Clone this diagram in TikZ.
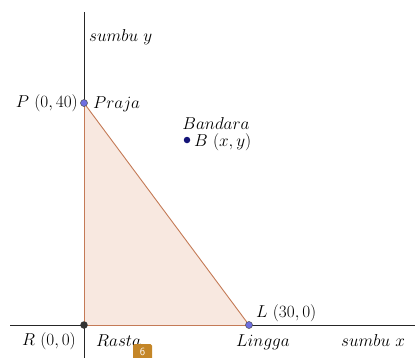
\documentclass[tikz,border=0pt]{standalone}
\usepackage{tikz}
\begin{document}
\begin{tikzpicture}[x=1bp,y=-1bp,
  lbl/.style={inner sep=0pt,font=\fontsize{17.28}{19}\selectfont},
  axis/.style={line width=0.9bp,black!85},
  edge/.style={line width=0.9bp,draw=edgec},
  bluept/.style={circle,fill=ptblue,draw=black!70,line width=0.5bp,inner sep=0pt,minimum size=7bp},
  darkpt/.style={circle,fill=black!80,inner sep=0pt,minimum size=7.5bp},
  navypt/.style={circle,fill=navy,inner sep=0pt,minimum size=6.5bp}]
\definecolor{edgec}{RGB}{196,122,86}
\definecolor{fillc}{RGB}{248,232,224}
\definecolor{ptblue}{RGB}{110,110,225}
\definecolor{navy}{RGB}{20,20,120}
\definecolor{badge}{RGB}{196,134,40}
\useasboundingbox (0,0) rectangle (415,358);
\coordinate (ytop) at (84,12);
\coordinate (ybot) at (84,358);
\coordinate (xl) at (10,325);
\coordinate (xr) at (415,325);
\coordinate (Pc) at (84,103);
\coordinate (Lc) at (249,325);
\coordinate (Rc) at (84,325);
\fill[fillc] (Pc) -- (Lc) -- (Rc) -- cycle;
\draw[axis] (ytop) -- (ybot);
\draw[axis] (xl) -- (xr);
\draw[edge] (Pc) -- (Lc);
\draw[edge] (Rc) -- (Pc);
\draw[edge] (Rc) -- (Lc);
\node[bluept] (P) at (Pc) {};
\node[bluept] (L) at (Lc) {};
\node[darkpt] (R) at (Rc) {};
\node[navypt] (B) at (187,140) {};
\node[lbl,anchor=west] (sy) at (89,37) {$sumbu\ y$};
\node[lbl,anchor=east] (pl) at (78,103) {$P\ (0,40)$};
\node[lbl,anchor=west] (pr) at (93,104) {$Praja$};
\node[lbl] (band) at (216,124) {$Bandara$};
\node[lbl,anchor=west] (bl) at (194,142) {$B\ (x,y)$};
\node[lbl,anchor=west] (ll) at (256,313) {$L\ (30,0)$};
\node[lbl,anchor=east] (rl) at (76,341) {$R\ (0,0)$};
\node[lbl,anchor=west] (ra) at (96,341) {$Rasta$};
\node[lbl] (li) at (263,342) {$Lingga$};
\node[lbl,anchor=west] (sx) at (341,341) {$sumbu\ x$};
\fill[badge,rounded corners=1.5bp] (133,344) rectangle (152,362);
\node[inner sep=0pt,text=white,font=\sffamily\fontsize{11}{11}\selectfont] (six) at (142.5,351.5) {6};
\end{tikzpicture}
\end{document}
